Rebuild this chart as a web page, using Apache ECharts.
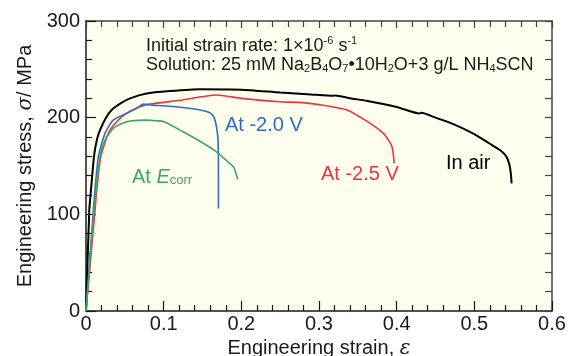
<!DOCTYPE html>
<html>
<head>
<meta charset="utf-8">
<script src="https://cdn.jsdelivr.net/npm/echarts@6/dist/echarts.min.js"></script>
<style>
  html, body { margin: 0; padding: 0; background: #ffffff; }
  #chart { width: 573px; height: 356px; }
</style>
</head>
<body>
<div id="chart"></div>
<script>
// Stress–strain curves: engineering strain (x) vs engineering stress in MPa (y)
const airStrain = [0, 0.0042, 0.0064, 0.0103, 0.014, 0.018, 0.025, 0.033, 0.045, 0.0567, 0.078, 0.108, 0.147, 0.20, 0.25, 0.29, 0.318, 0.321, 0.34, 0.361, 0.40, 0.429, 0.432, 0.45, 0.473, 0.50, 0.52, 0.533, 0.541, 0.545, 0.547, 0.548];
const airStress = [0, 104, 125, 160, 177, 187, 199, 207.9, 215, 220, 225, 227.5, 229.5, 229, 226, 224, 222.6, 223, 220, 217.5, 211, 204.4, 205, 200, 193.4, 183, 173, 166.5, 160, 152, 142, 132];

const v20Strain = [0, 0.0094, 0.0116, 0.0159, 0.0245, 0.035, 0.052, 0.065, 0.074, 0.08, 0.085, 0.104, 0.13, 0.147, 0.16, 0.165, 0.168, 0.170, 0.1705, 0.1705];
const v20Stress = [0, 104, 125, 159.6, 183.8, 197.5, 204.4, 209.6, 214, 213.5, 213, 212, 210, 208, 205, 200, 190.6, 176.8, 140, 106];

const v25Strain = [0, 0.0116, 0.0138, 0.019, 0.0287, 0.0373, 0.052, 0.0695, 0.082, 0.121, 0.168, 0.2, 0.25, 0.2755, 0.30, 0.336, 0.366, 0.383, 0.390, 0.394, 0.396, 0.3966];
const v25Stress = [0, 104, 125, 159.6, 183.8, 194, 204.4, 211.3, 214, 218, 223.4, 220, 216.4, 215.8, 213.5, 207.9, 194.1, 183.8, 176, 169.9, 160, 152.7];

const ecorrStrain = [0, 0.0103, 0.0129, 0.018, 0.0245, 0.035, 0.046, 0.059, 0.08, 0.091, 0.1, 0.125, 0.15, 0.168, 0.185, 0.19, 0.194, 0.1955];
const ecorrStress = [0, 104, 125, 159.6, 176.8, 188.9, 194, 196.8, 197.5, 196.8, 196, 185.4, 174, 164.7, 152.7, 149, 140, 136];

const xTicks = { min: 0, max: 0.6, step: 0.1 };
const yTicks = { min: 0, max: 300, step: 100 };

const pairs = (xs, ys) => xs.map((x, i) => [x, ys[i]]);

const FONT = '"Liberation Sans", Arial, sans-serif';
const SERIF = '"DejaVu Serif", "Liberation Serif", serif';
const INK = '#1a1a1a';

const chart = echarts.init(document.getElementById('chart'), null, { renderer: 'canvas' });

const tickCommon = {
  axisTick: { show: true, inside: true, length: 10, lineStyle: { color: INK, width: 1.2 } },
  minorTick: { show: true, splitNumber: 5, length: 6, lineStyle: { color: INK, width: 1.2 } },
  splitLine: { show: false },
  minorSplitLine: { show: false }
};

const line = (name, data, color, width) => ({
  name, type: 'line', data, showSymbol: false, symbol: 'none',
  smooth: 0.2, xAxisIndex: 0, yAxisIndex: 0,
  lineStyle: { color, width }, z: 3
});

chart.setOption({
  animation: false,
  backgroundColor: '#ffffff',
  grid: {
    left: 86, right: 21, top: 21, bottom: 45,
    containLabel: false, outerBoundsMode: 'none',
    show: true, backgroundColor: '#fffdee', borderWidth: 0
  },
  xAxis: [
    Object.assign({
      type: 'value', min: xTicks.min, max: xTicks.max, interval: xTicks.step,
      position: 'bottom',
      axisLine: { show: true, onZero: false, lineStyle: { color: INK, width: 1.5 } },
      axisLabel: { fontFamily: FONT, fontSize: 20, color: INK, margin: 3,
        formatter: v => (v === 0 ? '0' : v.toFixed(1)) },
      name: '{n|Engineering strain, }{i|ε}',
      nameLocation: 'middle', nameGap: 24,
      nameTextStyle: { rich: {
        n: { fontFamily: FONT, fontSize: 20, color: INK },
        i: { fontFamily: SERIF, fontStyle: 'italic', fontSize: 20, color: INK }
      } }
    }, tickCommon),
    Object.assign({
      type: 'value', min: xTicks.min, max: xTicks.max, interval: xTicks.step,
      position: 'top',
      axisLine: { show: true, onZero: false, lineStyle: { color: '#444', width: 1.5 } },
      axisLabel: { show: false }
    }, tickCommon, {
      axisTick: { show: true, inside: true, length: 7, lineStyle: { color: '#444', width: 1.2 } },
      minorTick: { show: true, splitNumber: 5, length: 6, lineStyle: { color: '#444', width: 1.2 } }
    })
  ],
  yAxis: [
    Object.assign({
      type: 'value', min: yTicks.min, max: yTicks.max, interval: yTicks.step,
      position: 'left',
      axisLine: { show: true, onZero: false, lineStyle: { color: INK, width: 1.5 } },
      axisLabel: { fontFamily: FONT, fontSize: 20, color: INK, margin: 6 },
      name: '{n|Engineering stress, }{i|σ}{n|/ MPa}',
      nameLocation: 'middle', nameGap: 50, nameRotate: 90,
      nameTextStyle: { rich: {
        n: { fontFamily: FONT, fontSize: 20, color: INK },
        i: { fontFamily: SERIF, fontStyle: 'italic', fontSize: 20, color: INK }
      } }
    }, tickCommon),
    Object.assign({
      type: 'value', min: yTicks.min, max: yTicks.max, interval: yTicks.step,
      position: 'right',
      axisLine: { show: true, onZero: false, lineStyle: { color: '#444', width: 1.5 } },
      axisLabel: { show: false }
    }, tickCommon, {
      axisTick: { show: true, inside: true, length: 7, lineStyle: { color: '#444', width: 1.2 } },
      minorTick: { show: true, splitNumber: 5, length: 7, lineStyle: { color: '#444', width: 1.2 } }
    })
  ],
  series: [
    line('In air', pairs(airStrain, airStress), '#000000', 2),
    line('At -2.5 V', pairs(v25Strain, v25Stress), '#e8363e', 1.6),
    line('At -2.0 V', pairs(v20Strain, v20Stress), '#2f6fc0', 1.6),
    line('At Ecorr', pairs(ecorrStrain, ecorrStress), '#3aa86a', 1.6)
  ],
  graphic: [
    { type: 'text', left: 146, top: 35, z: 10, style: {
      text: '{n|Initial strain rate: 1×10}{s|-6}{n| s}{s|-1}',
      rich: {
        n: { fontFamily: FONT, fontSize: 18, lineHeight: 20, fill: INK, verticalAlign: 'bottom' },
        s: { fontFamily: FONT, fontSize: 11, lineHeight: 20, fill: INK, verticalAlign: 'top' }
      } } },
    { type: 'text', left: 146, top: 56, z: 10, style: {
      text: '{n|Solution: 25 mM Na}{b|2}{n|B}{b|4}{n|O}{b|7}{n|•10H}{b|2}{n|O+3 g/L NH}{b|4}{n|SCN}',
      rich: {
        n: { fontFamily: FONT, fontSize: 18, lineHeight: 20, fill: INK, verticalAlign: 'bottom' },
        b: { fontFamily: FONT, fontSize: 11, lineHeight: 18, fill: INK, verticalAlign: 'bottom' }
      } } },
    { type: 'text', left: 225, top: 115, z: 10, style: {
      text: 'At -2.0 V', font: '20px ' + FONT, fill: '#2f6fc0' } },
    { type: 'text', left: 321, top: 164, z: 10, style: {
      text: 'At -2.5 V', font: '20px ' + FONT, fill: '#e8363e' } },
    { type: 'text', left: 446, top: 153, z: 10, style: {
      text: 'In air', font: '20px ' + FONT, fill: '#000000' } },
    { type: 'text', left: 132, top: 167, z: 10, style: {
      text: '{n|At }{e|E}{c|corr}',
      rich: {
        n: { fontFamily: FONT, fontSize: 20, lineHeight: 22, fill: '#3aa86a', verticalAlign: 'bottom' },
        e: { fontFamily: FONT, fontStyle: 'italic', fontSize: 20, lineHeight: 22, fill: '#3aa86a', verticalAlign: 'bottom' },
        c: { fontFamily: FONT, fontSize: 13, lineHeight: 20, fill: '#3aa86a', verticalAlign: 'bottom' }
      } } }
  ]
});
</script>
</body>
</html>
